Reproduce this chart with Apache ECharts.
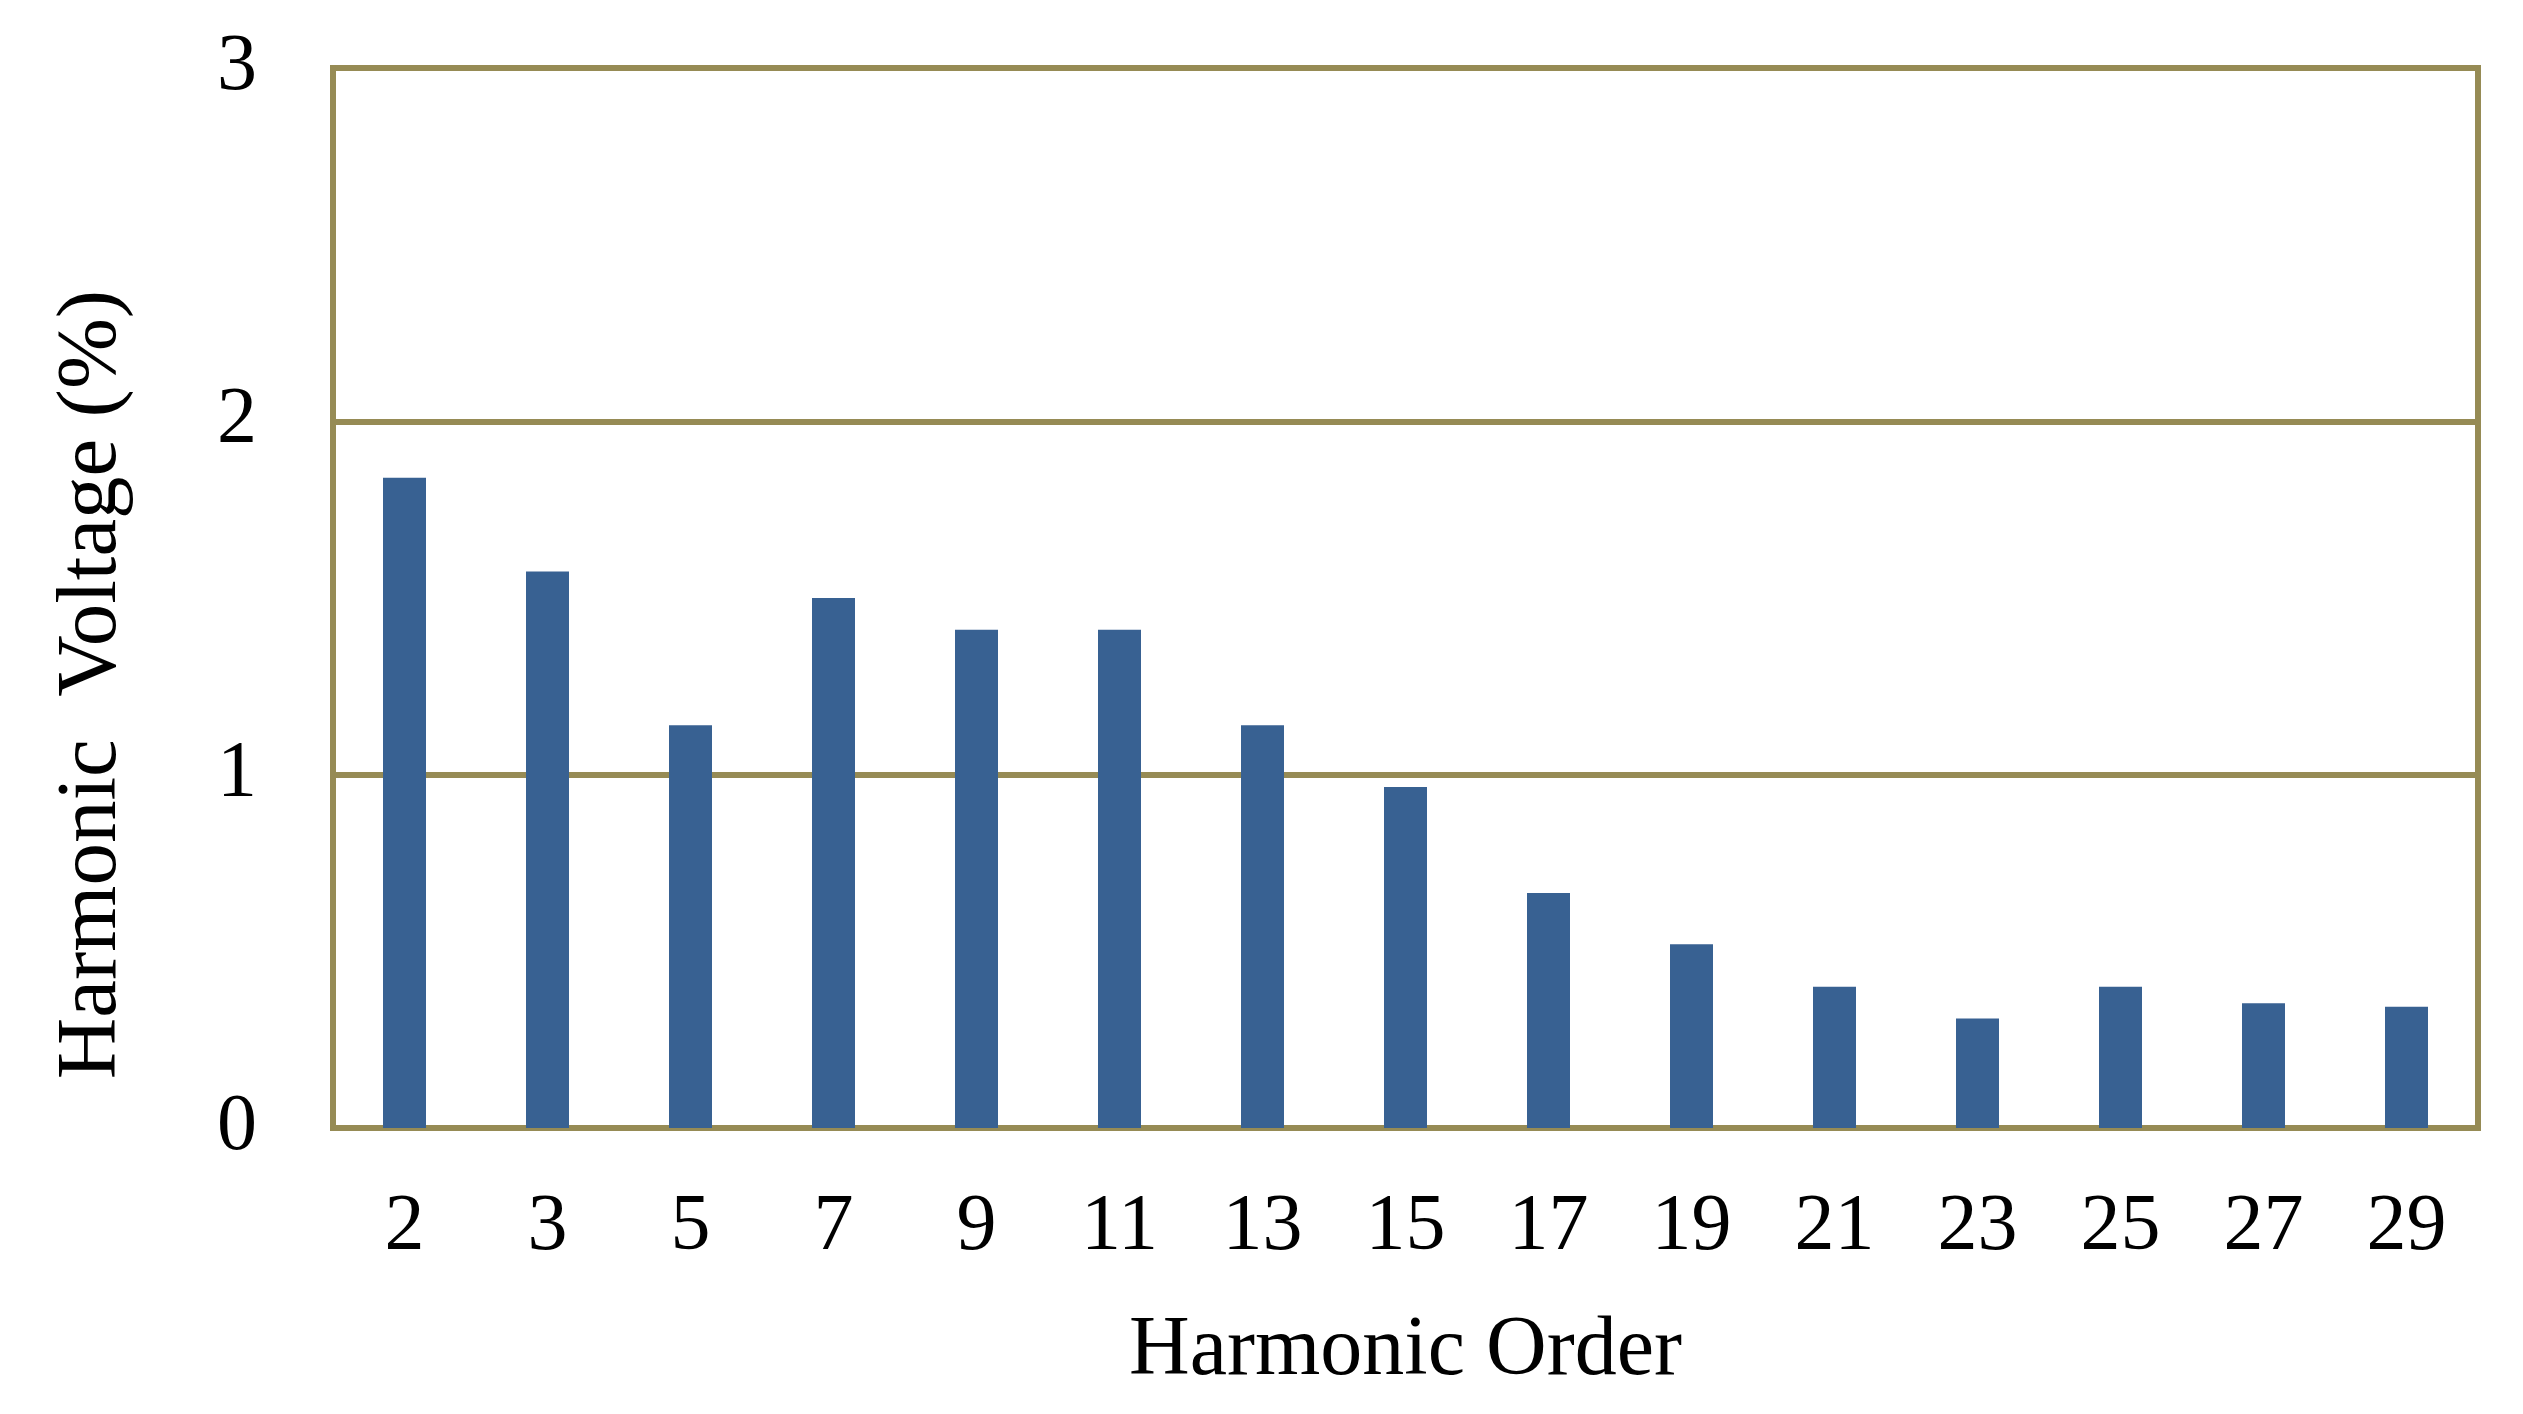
<!DOCTYPE html>
<html>
<head>
<meta charset="utf-8">
<script src="https://cdn.jsdelivr.net/npm/echarts@6/dist/echarts.min.js"></script>
<style>
html,body{margin:0;padding:0;background:#fff;}
#chart{width:2523px;height:1414px;}
</style>
</head>
<body>
<div id="chart"></div>
<script>
const categories = ['2','3','5','7','9','11','13','15','17','19','21','23','25','27','29'];
const harmonicVoltage = [1.84, 1.575, 1.14, 1.50, 1.41, 1.41, 1.14, 0.965, 0.665, 0.52, 0.40, 0.31, 0.40, 0.353, 0.343];
const yTicks = [0, 1, 2, 3];

const olive = '#968B55';
const fontFamily = '"Liberation Serif", "Times New Roman", serif';

const chart = echarts.init(document.getElementById('chart'), null, {renderer: 'canvas'});
chart.setOption({
  backgroundColor: '#ffffff',
  animation: false,
  grid: {
    left: 333, right: 45, top: 68, bottom: 286,
    show: true, borderColor: olive, borderWidth: 6,
    containLabel: false
  },
  xAxis: {
    type: 'category',
    data: categories,
    axisLine: {show: true, lineStyle: {color: olive, width: 6}},
    axisTick: {show: false},
    axisLabel: {color: '#000', fontFamily: fontFamily, fontSize: 80, margin: 60},
    name: 'Harmonic Order',
    nameLocation: 'middle',
    nameGap: 182,
    nameTextStyle: {color: '#000', fontFamily: fontFamily, fontSize: 84}
  },
  yAxis: {
    type: 'value',
    min: yTicks[0], max: yTicks[yTicks.length - 1], interval: 1,
    axisLine: {show: true, lineStyle: {color: olive, width: 6}},
    axisTick: {show: false},
    splitLine: {show: true, lineStyle: {color: olive, width: 6}},
    axisLabel: {color: '#000', fontFamily: fontFamily, fontSize: 80, margin: 76}
  },
  graphic: [{
    type: 'text',
    left: 50,
    top: 290,
    rotation: Math.PI / 2,
    style: {
      text: 'Harmonic  Voltage (%)',
      fill: '#000',
      font: '85px "Liberation Serif", "Times New Roman", serif'
    }
  }],
  series: [{
    type: 'bar',
    data: harmonicVoltage,
    barWidth: 43,
    itemStyle: {color: '#386192'}
  }]
});
</script>
</body>
</html>
